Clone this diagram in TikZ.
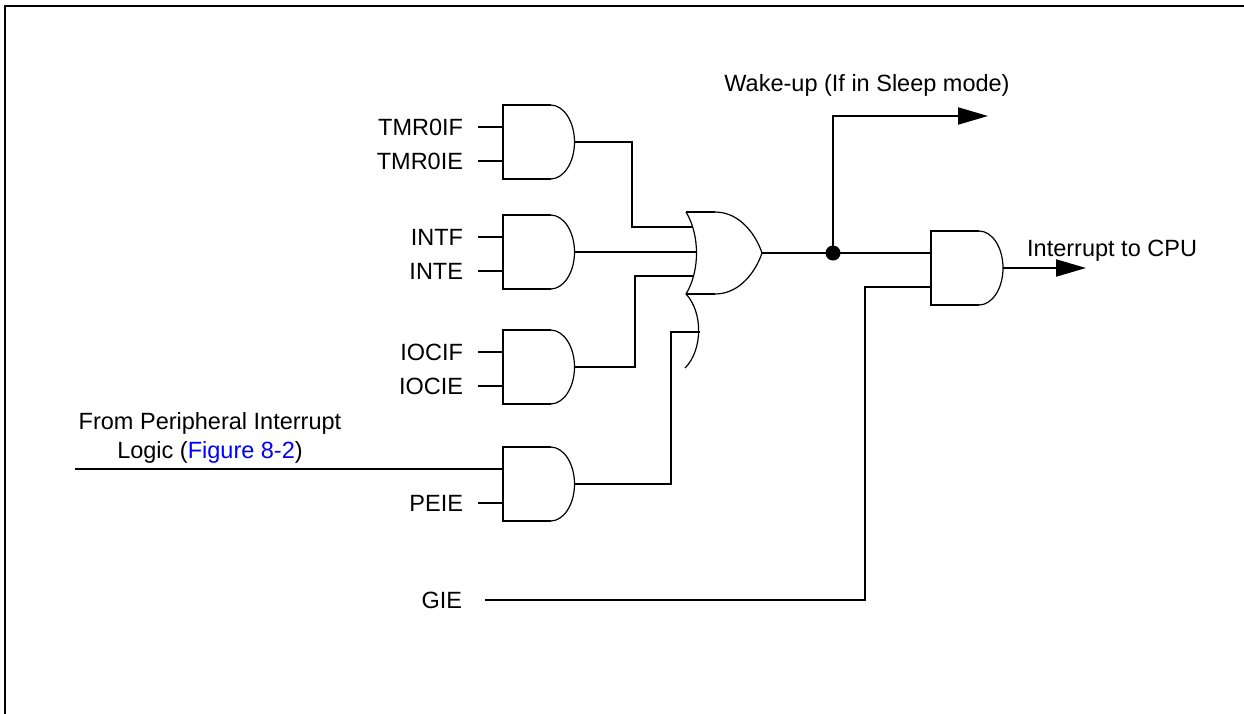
\documentclass[tikz,border=0pt]{standalone}
\usepackage{fontspec}
\setmainfont{Liberation Sans}
\usetikzlibrary{arrows.meta,positioning}
\definecolor{figlink}{RGB}{0,0,255}

\tikzset{
  wire/.style={line width=2pt},
  edge/.style={line width=2pt, line join=miter},
  bow/.style={line width=1.2pt},
  sig/.style={anchor=east, inner xsep=15pt, inner ysep=0pt, outer sep=0pt},
  tip/.style={-{Triangle[length=30pt,width=17pt]}},
  andgate/.pic={
    \draw[edge] (48,0) -- (0,0) -- (0,-74) -- (48,-74);
    \draw[bow] (48,0) arc[start angle=90, end angle=-90, x radius=24pt, y radius=37pt];
    \coordinate (-in1) at (0,-22);
    \coordinate (-in2) at (0,-56);
    \coordinate (-out) at (72,-37);
  }
}

\begin{document}
\begin{tikzpicture}[x=1pt,y=1pt,font=\fontsize{23.5}{29}\selectfont]
\useasboundingbox (0,0) rectangle (1244,-713);
% frame
\draw[wire] (5,-720) -- (5,-6) -- (1250,-6);

% and gates
\pic (g1) at (502.5,-105) {andgate};
\pic (g2) at (502.5,-215) {andgate};
\pic (g3) at (502.5,-330) {andgate};
\pic (g4) at (502.5,-447) {andgate};
\pic (g5) at (931,-231) {andgate};

% or gate
\draw[edge] (686,-212) -- (715,-212);
\draw[edge] (686,-294) -- (715,-294);
\draw[bow] (715,-212) .. controls (740,-212) and (756,-235) .. (762,-253)
  .. controls (756,-271) and (740,-294) .. (715,-294);
\draw[bow] (686,-212) .. controls (700,-235) and (700,-271) .. (686,-294)
  .. controls (703,-312) and (703,-350) .. (685,-368);
\coordinate (or-in1) at (693,-227);
\coordinate (or-in2) at (696.5,-252);
\coordinate (or-in3) at (693,-276);
\coordinate (or-in4) at (700,-332);
\coordinate (or-out) at (762,-253);

\coordinate (dot) at (833,-253);
\coordinate (wake) at (988,-116);
\coordinate (cpu) at (1086,-268);
\coordinate (periph) at (75,-469);
\coordinate (gie-bend) at (865,-600);

% labels
\node[sig, left=24.5pt of g1-in1] (tmr0if) {TMR0IF};
\node[sig, left=24.5pt of g1-in2] (tmr0ie) {TMR0IE};
\node[sig, left=24.5pt of g2-in1] (intf) {INTF};
\node[sig, left=24.5pt of g2-in2] (inte) {INTE};
\node[sig, left=24.5pt of g3-in1] (iocif) {IOCIF};
\node[sig, left=24.5pt of g3-in2] (iocie) {IOCIE};
\node[sig, left=24.5pt of g4-in2] (peie) {PEIE};
\node[sig, inner xsep=23pt] (gie) at (485,-600) {GIE};
\node (wakeup) at (867,-85) {Wake-up (If in Sleep mode)};
\node[anchor=base west, inner sep=0pt] (cpulbl) at (1027,-256) {Interrupt to CPU};
\node[align=center] (periphlbl) at (210,-438)
  {From Peripheral Interrupt\\Logic (\textcolor{figlink}{Figure 8-2})};

% wires
\draw[wire] (tmr0if) -- (g1-in1);
\draw[wire] (tmr0ie) -- (g1-in2);
\draw[wire] (intf) -- (g2-in1);
\draw[wire] (inte) -- (g2-in2);
\draw[wire] (iocif) -- (g3-in1);
\draw[wire] (iocie) -- (g3-in2);
\draw[wire] (periph) -- (g4-in1);
\draw[wire] (peie) -- (g4-in2);
\draw[wire] (g1-out) -- ++(57.5,0) |- (or-in1);
\draw[wire] (g2-out) -- (or-in2);
\draw[wire] (g3-out) -- ++(60.5,0) |- (or-in3);
\draw[wire] (g4-out) -- ++(96,0) |- (or-in4);
\draw[wire] (or-out) -- (dot) -- (g5-in1);
\draw[wire,tip] (dot) |- (wake);
\fill (dot) circle[radius=7.5pt];
\draw[wire] (gie) -- (gie-bend) |- (g5-in2);
\draw[wire,tip] (g5-out) -- (cpu);
\end{tikzpicture}
\end{document}
